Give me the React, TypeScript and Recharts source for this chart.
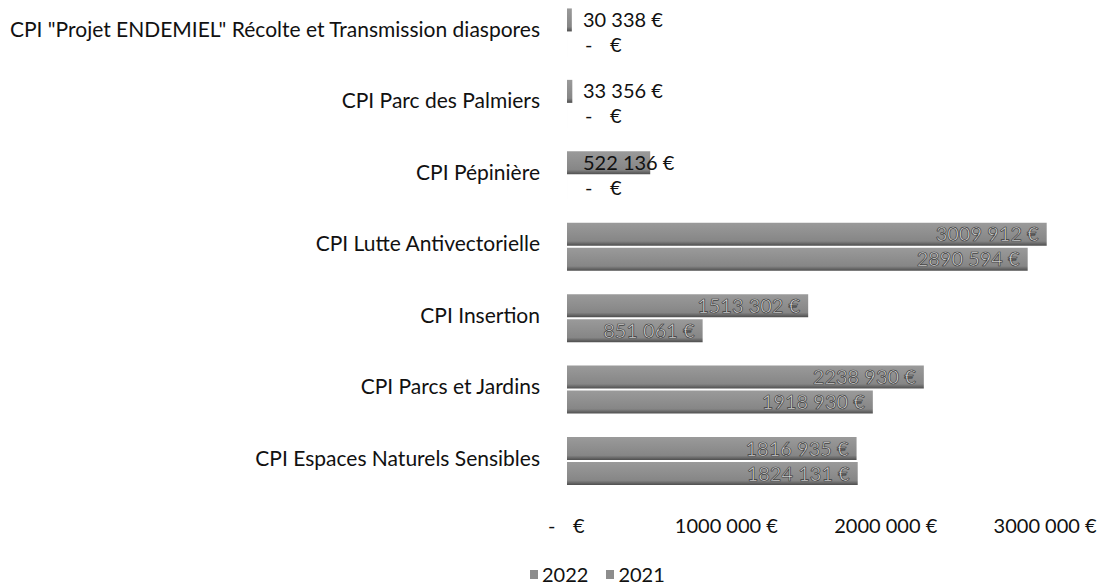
import React from "react";
import {
  BarChart,
  Bar,
  XAxis,
  YAxis,
  Legend,
  LabelList,
} from "recharts";

const CATEGORIES = [
  'CPI "Projet ENDEMIEL" Récolte et Transmission diaspores',
  "CPI Parc des Palmiers",
  "CPI Pépinière",
  "CPI Lutte Antivectorielle",
  "CPI Insertion",
  "CPI Parcs et Jardins",
  "CPI Espaces Naturels Sensibles",
];
const VALUES_2022 = [30338, 33356, 522136, 3009912, 1513302, 2238930, 1816935];
const VALUES_2021 = [0, 0, 0, 2890594, 851061, 1918930, 1824131];
const X_TICKS = [0, 1000000, 2000000, 3000000];
const SERIES = ["2022", "2021"];

const data = CATEGORIES.map((name, i) => ({
  name,
  y2022: VALUES_2022[i],
  y2021: VALUES_2021[i],
}));

const FONT = "Lato, 'Open Sans', sans-serif";
const ZERO_X = 567;

function euro(v: number) {
  const k = Math.floor(v / 1000);
  const r = v % 1000;
  if (k === 0) return `${r} €`;
  return `${k} ${String(r).padStart(3, "0")} €`;
}

// Excel's "- €" for zero, with the dash and euro sign spread apart
function Dash({ x, y }: { x: number; y: number }) {
  return (
    <g fontSize={20} fontFamily={FONT} fill="#111">
      <text x={x} y={y} dy="0.35em">-</text>
      <text x={x + 25} y={y} dy="0.35em">€</text>
    </g>
  );
}

function BarLabel(props: any) {
  const { x, y, width, height, value } = props;
  const cy = y + height / 2;
  if (!value) return <Dash x={ZERO_X + 18} y={cy} />;
  if (value < 600000) {
    return (
      <text x={ZERO_X + 16} y={cy} dy="0.35em" fontSize={20} fontFamily={FONT} fill="#111">
        {euro(value)}
      </text>
    );
  }
  return (
    <text
      x={x + width - 8}
      y={cy}
      dy="0.35em"
      textAnchor="end"
      fontSize={20}
      fontFamily={FONT}
      fill="#dcdcdc"
      stroke="#3a3a3a"
      strokeWidth={0.7}
    >
      {euro(value)}
    </text>
  );
}

function XTick(props: any) {
  const { x, y, payload } = props;
  if (!payload.value) return <Dash x={x - 19} y={y} />;
  return (
    <text x={x} y={y} dy="0.35em" textAnchor="middle" fontSize={20} fontFamily={FONT} fill="#111">
      {euro(payload.value)}
    </text>
  );
}

function YTick(props: any) {
  const { x, y, payload } = props;
  return (
    <text x={x} y={y - 3} dy="0.35em" textAnchor="end" fontSize={21} fontFamily={FONT} fill="#111">
      {payload.value}
    </text>
  );
}

function LegendBox() {
  return (
    <div
      style={{
        height: 26,
        display: "flex",
        alignItems: "center",
        paddingLeft: 530,
        gap: 18,
        fontFamily: FONT,
        fontSize: 20,
        color: "#111",
      }}
    >
      {SERIES.map((k) => (
        <span key={k} style={{ display: "flex", alignItems: "center", gap: 4 }}>
          <span style={{ width: 8, height: 9, background: "#8d8d8d", display: "inline-block" }} />
          {k}
        </span>
      ))}
    </div>
  );
}

export default function App() {
  return (
    <div style={{ position: "absolute", left: 0, top: 0, background: "#fff" }}>
      <BarChart
        width={1098}
        height={587}
        data={data}
        layout="vertical"
        margin={{ top: -3, right: 21, bottom: 0, left: 0 }}
        barCategoryGap="16%"
        barGap={2}
      >
        <defs>
          <linearGradient id="barFill" x1="0" y1="0" x2="0" y2="1">
            <stop offset="0%" stopColor="#9a9a9a" />
            <stop offset="80%" stopColor="#868686" />
            <stop offset="100%" stopColor="#4e4e4e" />
          </linearGradient>
        </defs>
        <XAxis
          type="number"
          domain={[0, 3200000]}
          ticks={X_TICKS}
          axisLine={false}
          tickLine={false}
          tickSize={0}
          tickMargin={29}
          height={64}
          tick={<XTick />}
        />
        <YAxis
          type="category"
          dataKey="name"
          width={567}
          axisLine={false}
          tickLine={false}
          tickSize={0}
          tickMargin={27}
          interval={0}
          tick={<YTick />}
        />
        <Legend
          verticalAlign="bottom"
          wrapperStyle={{ left: 0, width: 1098 }}
          content={<LegendBox />}
        />
        <Bar dataKey="y2022" name="2022" fill="url(#barFill)" minPointSize={0.01} isAnimationActive={false}>
          <LabelList dataKey="y2022" content={<BarLabel />} />
        </Bar>
        <Bar dataKey="y2021" name="2021" fill="url(#barFill)" minPointSize={0.01} isAnimationActive={false}>
          <LabelList dataKey="y2021" content={<BarLabel />} />
        </Bar>
      </BarChart>
    </div>
  );
}
